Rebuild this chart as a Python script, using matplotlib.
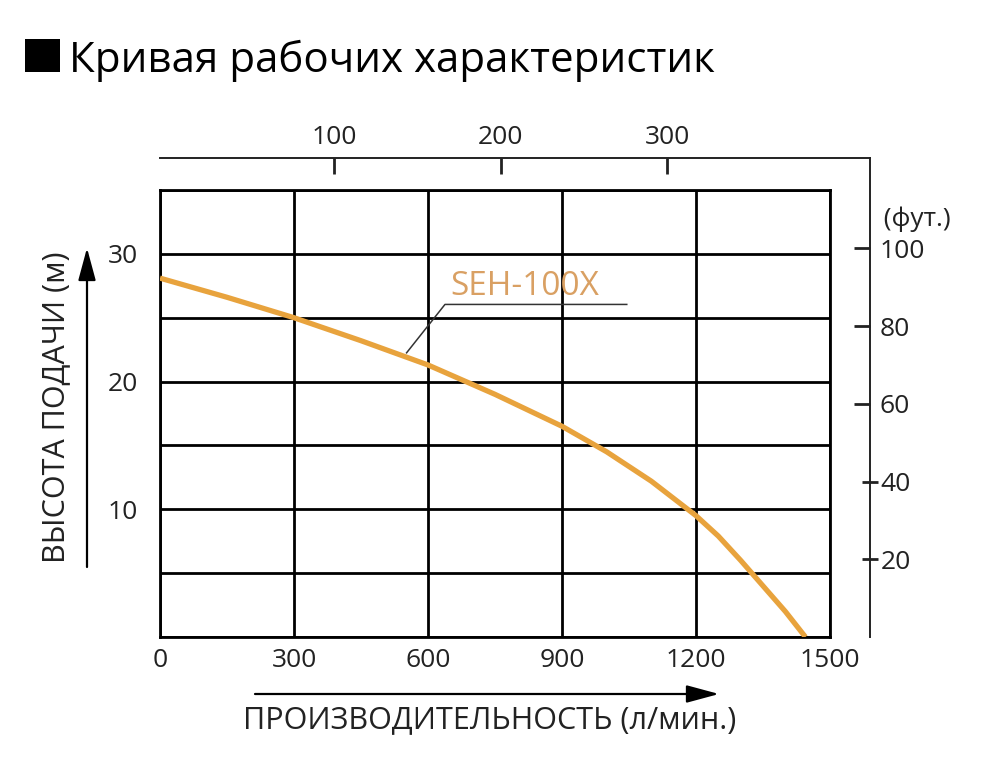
import matplotlib
matplotlib.use("Agg")
import matplotlib.pyplot as plt
from matplotlib.patches import Rectangle
from matplotlib.transforms import blended_transform_factory

# ---- data ----
flow_lpm = [0, 150, 300, 450, 600, 750, 900, 1000, 1100, 1200, 1250, 1300, 1350, 1400, 1445]
head_m = [28.1, 26.6, 25.0, 23.2, 21.3, 19.0, 16.5, 14.5, 12.2, 9.5, 7.9, 6.0, 4.0, 2.0, 0.0]
x_ticks = [0, 300, 600, 900, 1200, 1500]
y_grid = [0, 5, 10, 15, 20, 25, 30, 35]
y_labels = ["", "", "10", "", "20", "", "30", ""]
gal_ticks = [100, 200, 300]
ft_major = [60, 80, 100]
ft_minor = [20, 40]
series_name = "SEH-100X"
leader_x = [552, 638, 1045]
leader_y = [22.25, 26.04, 26.04]

title = "Кривая рабочих характеристик"
xlabel = "ПРОИЗВОДИТЕЛЬНОСТЬ (л/мин.)"
ylabel = "ВЫСОТА ПОДАЧИ (м)"
ft_unit = "(фут.)"

FONT = ["Open Sans", "DejaVu Sans"]
plt.rcParams["font.family"] = FONT

W, H = 1000, 759
fig = plt.figure(figsize=(W / 100, H / 100), dpi=100)

def fx(px):
    return px / W

def fy(py):
    return 1 - py / H

TICK_FS = 19

# main grid axes
ax = fig.add_axes([fx(160), fy(637), fx(830) - fx(160), fy(190) - fy(637)])
ax.set_xlim(0, 1500)
ax.set_ylim(0, 35)
ax.set_xticks(x_ticks)
ax.set_xticklabels([str(v) for v in x_ticks])
ax.set_yticks(y_grid)
ax.set_yticklabels(y_labels)
ax.tick_params(axis="both", length=0, labelsize=TICK_FS, colors="#222222")
ax.tick_params(axis="x", pad=8)
ax.tick_params(axis="y", pad=16)
ax.grid(True, color="black", linewidth=2.0)
for s in ax.spines.values():
    s.set_linewidth(2.0)
    s.set_color("black")
ax.set_axisbelow(True)

ax.plot(flow_lpm, head_m, color="#E8A33D", linewidth=3.8, solid_capstyle="butt",
        solid_joinstyle="round", zorder=5)
ax.plot(leader_x, leader_y, color="#333333", linewidth=1.1, zorder=6)
ax.text(649, 26.75, series_name, color="#D9A063", fontsize=24, ha="left", va="baseline", zorder=7)

# secondary axes: top (gal/min) and right (ft)
ax2 = fig.add_axes([fx(160), fy(637), fx(870) - fx(160), fy(158) - fy(637)], facecolor="none")
ax2.set_xlim(-4.5, 421.9)
ax2.set_ylim(0, 123.25)
for side in ["left", "bottom"]:
    ax2.spines[side].set_visible(False)
for side in ["top", "right"]:
    ax2.spines[side].set_linewidth(1.4)
    ax2.spines[side].set_color("#222222")
ax2.xaxis.tick_top()
ax2.set_xticks(gal_ticks)
ax2.set_xticklabels([str(v) for v in gal_ticks])
ax2.tick_params(axis="x", direction="in", length=11.5, width=2.0, labelsize=TICK_FS, pad=6, colors="#222222")
ax2.yaxis.tick_right()
ax2.set_yticks(ft_major)
ax2.set_yticklabels([str(v) for v in ft_major])
ax2.set_yticks(ft_minor, minor=True)
ax2.set_yticklabels([str(v) for v in ft_minor], minor=True)
ax2.tick_params(axis="y", which="major", direction="in", length=11.5, width=2.0, labelsize=TICK_FS, pad=7, colors="#222222")
ax2.tick_params(axis="y", which="minor", direction="inout", length=11.5, width=2.0, labelsize=TICK_FS, pad=2, colors="#222222")
ax2.tick_params(axis="x", which="minor", length=0)
tr = blended_transform_factory(ax2.transAxes, ax2.transData)
ax2.text(1.0, 107.5, "  " + ft_unit, transform=tr, fontsize=TICK_FS, ha="left", va="center", color="#222222")

# title with square
fig.patches.append(Rectangle((fx(25), fy(72)), fx(60) - fx(25), fy(39) - fy(72),
                             transform=fig.transFigure, facecolor="black", edgecolor="none"))
fig.text(fx(69), fy(72), title, fontsize=30.3, ha="left", va="baseline", color="black")

# axis labels
fig.text(fx(490), fy(720), xlabel, fontsize=22, ha="center", va="center", color="#222222")
fig.text(fx(56), fy(407), ylabel, fontsize=22, ha="center", va="center", rotation=90, color="#222222")

# arrows
arrow_kw = dict(arrowstyle="-|>,head_length=1.0,head_width=0.27", color="black", lw=1.6,
                shrinkA=0, shrinkB=0, mutation_scale=20)
ax.annotate("", xy=(fx(87), fy(248)), xytext=(fx(87), fy(567)), xycoords="figure fraction",
            textcoords="figure fraction", arrowprops=arrow_kw, annotation_clip=False)
ax.annotate("", xy=(fx(719), fy(694)), xytext=(fx(255), fy(694)), xycoords="figure fraction",
            textcoords="figure fraction", arrowprops=arrow_kw, annotation_clip=False)

fig.savefig("out.png", dpi=100, facecolor="white")
